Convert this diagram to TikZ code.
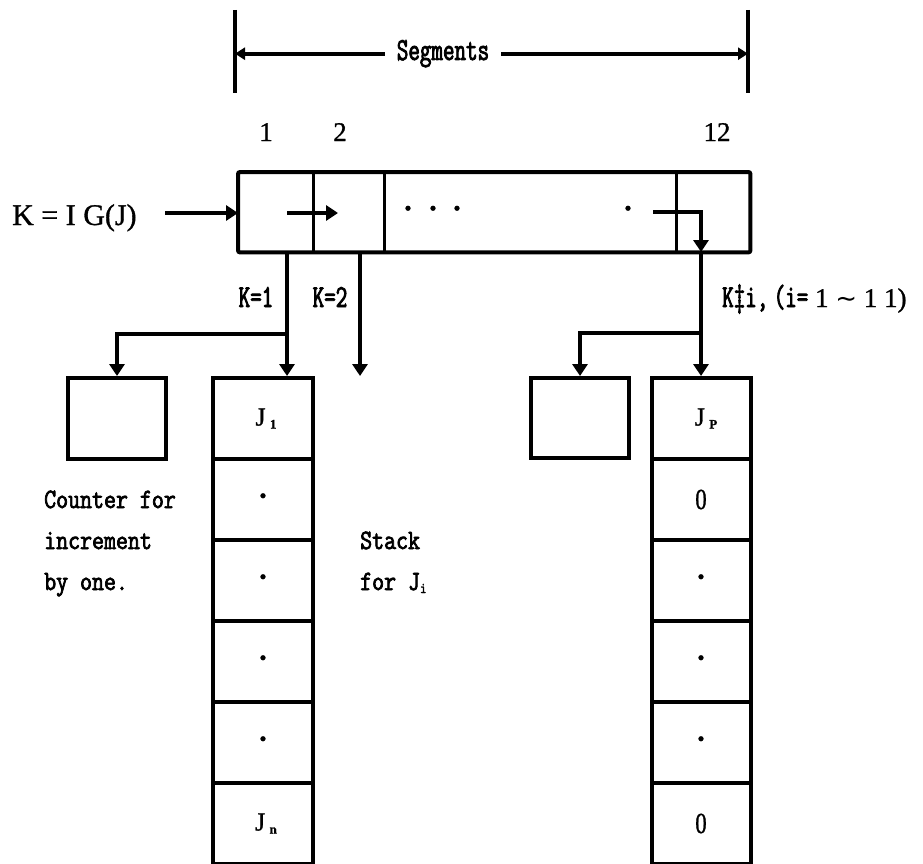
\documentclass[tikz,border=0pt]{standalone}
\usepackage{fontspec}
\setmainfont{Liberation Serif}[FakeBold=1.0]
\newfontfamily\monof[FakeStretch=0.83, FakeBold=2.6]{Latin Modern Mono}
\newfontfamily\monoK[FakeStretch=0.7, FakeBold=2.6]{Latin Modern Mono}
\newfontfamily\dvs{DejaVu Sans}
\usetikzlibrary{arrows.meta}
\newcommand\MF{\monof\fontsize{28}{28}\selectfont}
\newcommand\MK{\monoK\fontsize{32}{32}\selectfont}
\newcommand\SF{\rmfamily\fontsize{27}{27}\selectfont}
\newcommand\JF{\rmfamily\fontsize{26}{26}\selectfont}
\newcommand\subb[1]{\raisebox{-3pt}{\bfseries\fontsize{13}{13}\selectfont #1}}
\newcommand\zero{\scalebox{0.85}[1.08]{0}}
\tikzset{
  lw/.style={line width=4pt},
  divw/.style={line width=3.2pt},
  arr/.style={line width=4pt, -{Triangle[length=12pt,width=15pt]}},
  arrS/.style={line width=3.8pt, -{Triangle[length=10pt,width=12pt]}},
  rowcell/.style={minimum height=80pt, inner sep=0pt, anchor=north west},
  stk/.style={draw, line width=4pt, minimum height=81pt, inner sep=0pt, anchor=north},
  dotn/.style={font=\bfseries\fontsize{30}{30}\selectfont, inner sep=0pt},
  txt/.style={inner sep=0pt},
}
\begin{document}
\begin{tikzpicture}[x=1pt,y=-1pt]
\useasboundingbox (0,0) rectangle (923,864);

% Segments dimension
\coordinate (lbt) at (235,10); \coordinate (lbb) at (235,93);
\coordinate (rbt) at (748,10); \coordinate (rbb) at (748,93);
\draw[lw] (lbt) -- (lbb);
\draw[lw] (rbt) -- (rbb);
\node[inner xsep=12pt, inner ysep=0pt, anchor=base, font=\MK] (seg) at (443,60) {Segments};
\draw[arrS] (seg.west) -- (seg.west -| lbt);
\draw[arrS] (seg.east) -- (seg.east -| rbt);

% segment numbers
\node[txt, anchor=base, font=\SF] (n1) at (266,141) {1};
\node[txt, anchor=base, font=\SF] (n2) at (340,141) {2};
\node[txt, anchor=base, font=\SF] (n12) at (717,141) {12};

% row of segments
\node[rowcell, minimum width=75pt] (c1) at (238,172) {};
\node[rowcell, minimum width=71pt] (c2) at (313,172) {};
\node[rowcell, minimum width=292pt] (cd) at (384,172) {};
\node[rowcell, minimum width=74pt] (c12) at (676,172) {};
\draw[lw, rounded corners=2pt] (c1.north west) rectangle (c12.south east);
\draw[divw] (c1.north east) -- (c1.south east);
\draw[divw] (c2.north east) -- (c2.south east);
\draw[divw] (cd.north east) -- (cd.south east);

% dots in the row
\node[dotn] (d1) at (408,212) {·};
\node[dotn] (d2) at (433,212) {·};
\node[dotn] (d3) at (457,212) {·};
\node[dotn] (d4) at (628,212) {·};

% input
\node[txt, anchor=base west, font=\rmfamily\fontsize{30}{30}\selectfont] (kig) at (12,225) {K = I G(J)};
\coordinate (kigout) at (165,213);
\draw[arr] (kigout) -- (kigout -| c1.west);

% inner arrow 1 -> 2
\coordinate (a1) at (287,213);
\coordinate (a2) at (338,213);
\draw[arr] (a1) -- (a2);

% counter and stacks
\node[stk, minimum width=98pt] (cnt) at (117,376) {};
\node[stk, minimum width=100pt, font=\JF] (s1) at (263,376) {\hspace{6pt}J\,\subb{1}};
\node[stk, minimum width=100pt, dotn] (s2) at (263,457) {·};
\node[stk, minimum width=100pt, dotn] (s3) at (263,538) {·};
\node[stk, minimum width=100pt, dotn] (s4) at (263,619) {·};
\node[stk, minimum width=100pt, dotn] (s5) at (263,700) {·};
\node[stk, minimum width=100pt, font=\JF] (s6) at (263,781) {\hspace{6pt}J\,\subb{n}};

\node[stk, minimum width=98pt, minimum height=80pt] (sm) at (580,376) {};
\node[stk, minimum width=99pt, font=\JF] (r1) at (701,376) {\hspace{10pt}J\,\subb{P}};
\node[stk, minimum width=99pt, font=\SF] (r2) at (701,457) {\zero};
\node[stk, minimum width=99pt, dotn] (r3) at (701,538) {·};
\node[stk, minimum width=99pt, dotn] (r4) at (701,619) {·};
\node[stk, minimum width=99pt, dotn] (r5) at (701,700) {·};
\node[stk, minimum width=99pt, font=\SF] (r6) at (701,781) {\zero};

% K=1 connectors
\coordinate (k1) at (287,252);
\coordinate (k1b) at (287,334);
\draw[arr] (k1) -- (k1 |- s1.north);
\draw[arr] (k1b) -- (k1b -| cnt.north) -- (cnt.north);

% K=2 connector
\coordinate (k2) at (360,252);
\coordinate (k2e) at (360,376);
\draw[arr] (k2) -- (k2e);

% K != i connectors
\coordinate (b1) at (653,212);
\coordinate (b2) at (701,212);
\coordinate (b3) at (701,252);
\coordinate (rb) at (701,333);
\draw[arr] (b1) -- (b2) -- (b3);
\draw[arr] (b3) -- (r1.north);
\draw[arr] (rb) -- (rb -| sm.north) -- (sm.north);

% labels
\node[txt, anchor=base, font=\MK] (lk1) at (256,307) {K=1};
\node[txt, anchor=base, font=\MK] (lk2) at (330,307) {K=2};
\node[txt, anchor=base west] (lki) at (722,307) {\MK K‡i,\,(i={\SF\ 1 {\dvs\fontsize{26}{26}\selectfont ∼} 1 1)}};

\node[txt, anchor=base west, font=\MF] (ct1) at (44,508) {Counter for};
\node[txt, anchor=base west, font=\MF] (ct2) at (44,549) {increment};
\node[txt, anchor=base west, font=\MF] (ct3) at (44,590) {by one.};
\node[txt, anchor=base west, font=\MF] (st1) at (360,549) {Stack};
\node[txt, anchor=base west, font=\MF] (st2) at (360,590) {for J\raisebox{-3pt}{\fontsize{15}{15}\selectfont i}};
\end{tikzpicture}
\end{document}
